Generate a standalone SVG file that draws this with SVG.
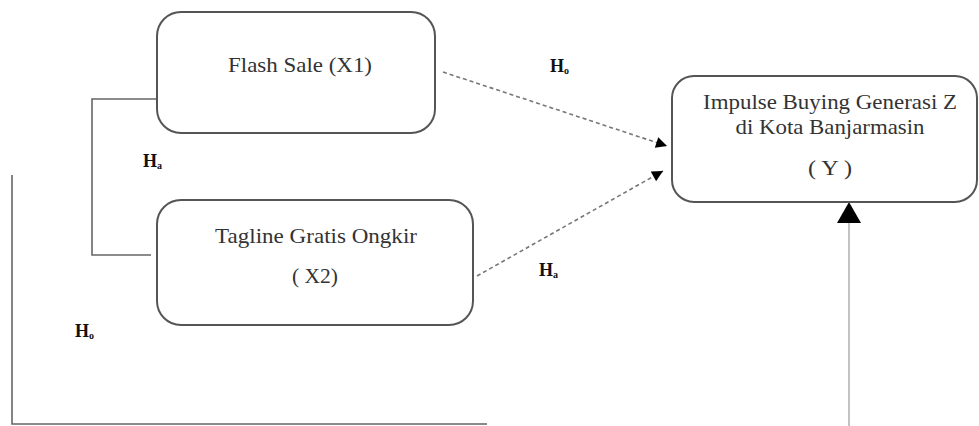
<svg xmlns="http://www.w3.org/2000/svg" width="979" height="426" viewBox="0 0 979 426">
<style>
.box{fill:#fff;stroke:#555;stroke-width:2}
.t{font-family:"Liberation Serif","Times New Roman",serif;font-size:21px;fill:#333;text-anchor:middle}
.h{font-family:"Liberation Serif","Times New Roman",serif;font-size:18px;font-weight:bold;fill:#111}
.sub{font-size:10px}
.ln{fill:none;stroke:#666;stroke-width:1.6}
.lt{fill:none;stroke:#aaa;stroke-width:1.4}
.dash{fill:none;stroke:#777;stroke-width:1.6;stroke-dasharray:4 3}
</style>
<defs>
<marker id="ah" viewBox="0 0 10 10" refX="10" refY="5" markerWidth="12" markerHeight="11" markerUnits="userSpaceOnUse" orient="auto">
<path d="M0,0 L10,5 L0,10 Z" fill="#000"/>
</marker>
</defs>
<g id="connectors">
<polyline class="ln" points="157,99 92,99 92,255 151,255"/>
<line class="dash" x1="443" y1="72" x2="667" y2="146" marker-end="url(#ah)"/>
<line class="dash" x1="477" y1="276" x2="663" y2="171" marker-end="url(#ah)"/>
<polyline class="ln" points="12,175 12,424 487,424"/>
<line class="lt" x1="849" y1="222" x2="849" y2="426"/>
<path d="M849,202 L861,223 L837,223 Z" fill="#000"/>
</g>
<g id="x1">
<rect class="box" x="157" y="12" width="278" height="121" rx="24"/>
<text class="t" x="300" y="72" textLength="144" lengthAdjust="spacingAndGlyphs">Flash Sale (X1)</text>
</g>
<g id="x2">
<rect class="box" x="157" y="200" width="316" height="125" rx="24"/>
<text class="t" x="316" y="243" textLength="202" lengthAdjust="spacingAndGlyphs">Tagline Gratis Ongkir</text>
<text class="t" x="315" y="283" textLength="46" lengthAdjust="spacingAndGlyphs">( X2)</text>
</g>
<g id="y">
<rect class="box" x="672" y="76" width="305" height="126" rx="22"/>
<text class="t" x="830" y="109" textLength="254" lengthAdjust="spacingAndGlyphs">Impulse Buying Generasi Z</text>
<text class="t" x="830" y="134" textLength="189" lengthAdjust="spacingAndGlyphs">di Kota Banjarmasin</text>
<text class="t" x="830" y="175" textLength="44" lengthAdjust="spacingAndGlyphs">( Y )</text>
</g>
<g id="labels">
<text class="h" x="550" y="72">H<tspan class="sub" dy="2">o</tspan></text>
<text class="h" x="539" y="276">H<tspan class="sub" dy="2">a</tspan></text>
<text class="h" x="143" y="167">H<tspan class="sub" dy="2">a</tspan></text>
<text class="h" x="75" y="337">H<tspan class="sub" dy="2">o</tspan></text>
</g>
</svg>
